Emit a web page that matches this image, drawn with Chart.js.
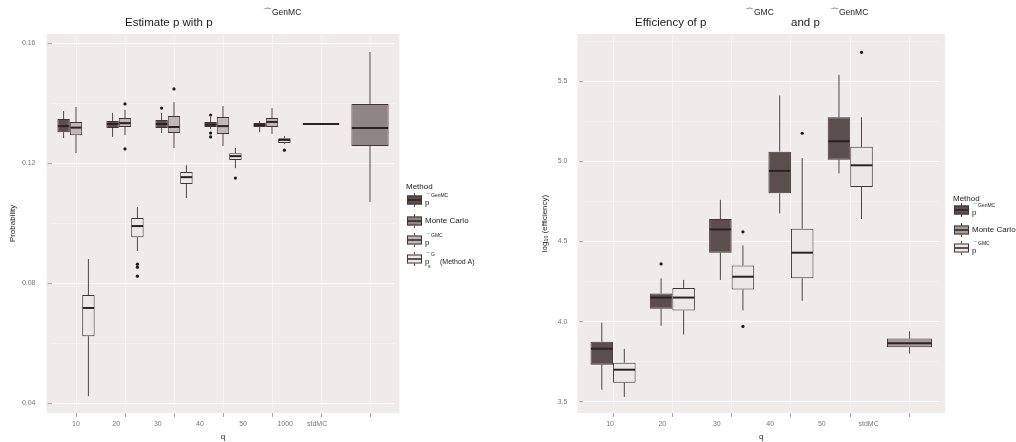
<!DOCTYPE html>
<html>
<head>
<meta charset="utf-8">
<script src="https://cdn.jsdelivr.net/npm/chart.js@4.4.1/dist/chart.umd.min.js"></script>
<style>
    body { margin: 0; background: #fff; width: 1016px; height: 442px; overflow: hidden; position: relative; }
    canvas { position: absolute; top: 0; }
    #leftChart { left: 0; }
    #rightChart { left: 500px; }
</style>
</head>
<body>
<canvas id="leftChart" width="500" height="442"></canvas>
<canvas id="rightChart" width="516" height="442"></canvas>
<script>
// each box: [lower whisker, q1, median, q3, upper whisker]
const leftGroups = ['10', '20', '30', '40', '50', '1000', 'stdMC'];
const leftYTicks = [0.04, 0.06, 0.08, 0.10, 0.12, 0.14, 0.16];

const leftGenMC = [
    [0.1283, 0.1303, 0.1323, 0.1347, 0.1373],
    [0.1287, 0.1317, 0.1330, 0.1340, 0.1367],
    [0.1300, 0.1317, 0.1330, 0.1343, 0.1367],
    [0.1313, 0.1320, 0.1328, 0.1337, 0.1353],
    [0.1303, 0.1320, 0.1327, 0.1333, 0.1340],
    [0.1329, 0.1329, 0.1330, 0.1331, 0.1331],
    null
];
const leftGenMCOut = [[], [], [0.1383], [0.1360, 0.1300, 0.1287], [], [], []];

const leftMC = [null, null, null, null, null, null, [0.1070, 0.1257, 0.1317, 0.1397, 0.1570]];
const leftMCOut = [[], [], [], [], [], [], []];

const leftGMC = [
    [0.1233, 0.1293, 0.1318, 0.1337, 0.1387],
    [0.1293, 0.1320, 0.1333, 0.1350, 0.1377],
    [0.1250, 0.1300, 0.1320, 0.1357, 0.1403],
    [0.1257, 0.1297, 0.1323, 0.1353, 0.1390],
    [0.1297, 0.1320, 0.1337, 0.1350, 0.1383],
    null, null
];
const leftGMCOut = [[], [0.1397, 0.1247], [0.1447], [], [], [], []];

const leftMethodA = [
    [0.0423, 0.0623, 0.0717, 0.0760, 0.0880],
    [0.0907, 0.0953, 0.0990, 0.1017, 0.1053],
    [0.1083, 0.1130, 0.1153, 0.1170, 0.1193],
    [0.1183, 0.1210, 0.1223, 0.1233, 0.1250],
    [0.1263, 0.1267, 0.1277, 0.1283, 0.1290],
    null, null
];
const leftMethodAOut = [[], [0.0863, 0.0853, 0.0823], [], [0.1150], [0.1243], [], []];

const rightGroups = ['10', '20', '30', '40', '50', 'stdMC'];
const rightYTicks = [3.5, 3.75, 4.0, 4.25, 4.5, 4.75, 5.0, 5.25, 5.5, 5.75];

const rightGenMC = [
    [3.575, 3.731, 3.831, 3.875, 3.994],
    [3.975, 4.081, 4.150, 4.175, 4.270],
    [4.260, 4.430, 4.575, 4.640, 4.760],
    [4.675, 4.800, 4.940, 5.060, 5.410],
    [4.925, 5.010, 5.125, 5.275, 5.540],
    null
];
const rightGenMCOut = [[], [4.36], [], [], [], []];

const rightMC = [null, null, null, null, null, [3.800, 3.840, 3.865, 3.894, 3.940]];
const rightMCOut = [[], [], [], [], [], []];

const rightGMC = [
    [3.530, 3.619, 3.700, 3.744, 3.830],
    [3.920, 4.070, 4.150, 4.210, 4.260],
    [4.070, 4.200, 4.280, 4.350, 4.475],
    [4.130, 4.270, 4.430, 4.580, 5.020],
    [4.640, 4.840, 4.975, 5.090, 5.275],
    null
];
const rightGMCOut = [[], [], [4.56, 3.97], [5.175], [5.68], []];

// where the q labels sit, in category units (they drift off the tick marks in the original)
const leftLabelAt = [0, 0.82, 1.67, 2.53, 3.41, 4.27, 4.92];
const rightLabelAt = [-0.05, 0.83, 1.75, 2.65, 3.52, 4.31];

const FONT = '"Liberation Sans", Arial, sans-serif';
Chart.defaults.font.family = FONT;

const panelBg = {
    id: 'panelBg',
    beforeDraw(chart) {
        const { ctx, chartArea } = chart;
        const x = chart.scales.x;
        const n = chart.data.labels.length;
        const unit = (chartArea.right - chartArea.left) / n;
        ctx.save();
        ctx.fillStyle = '#fff';
        ctx.fillRect(0, 0, chart.width, chart.height);
        ctx.fillStyle = '#efebe8';
        const l = x.getPixelForValue(0) - 0.6 * unit;
        const r = x.getPixelForValue(n - 1) + 0.6 * unit;
        ctx.fillRect(l, chartArea.top, r - l, chartArea.bottom - chartArea.top);
        ctx.restore();
    }
};

const boxExtras = {
    id: 'boxExtras',
    afterDatasetsDraw(chart) {
        const ctx = chart.ctx;
        const y = chart.scales.y;
        ctx.save();
        chart.data.datasets.forEach((ds, di) => {
            const meta = chart.getDatasetMeta(di);
            ds.stats.forEach((s, i) => {
                if (!s) return;
                const bar = meta.data[i];
                const x = bar.x;
                const half = bar.width / 2;
                ctx.strokeStyle = '#4f4545';
                ctx.lineWidth = 1;
                ctx.beginPath();
                ctx.moveTo(x, y.getPixelForValue(s[3]));
                ctx.lineTo(x, y.getPixelForValue(s[4]));
                ctx.moveTo(x, y.getPixelForValue(s[1]));
                ctx.lineTo(x, y.getPixelForValue(s[0]));
                ctx.stroke();

                ctx.strokeStyle = '#2b2323';
                ctx.lineWidth = 2;
                ctx.beginPath();
                const my = y.getPixelForValue(s[2]);
                ctx.moveTo(x - half + 0.5, my);
                ctx.lineTo(x + half - 0.5, my);
                ctx.stroke();

                ctx.fillStyle = '#1e1a1a';
                (ds.outliers[i] || []).forEach(v => {
                    ctx.beginPath();
                    ctx.arc(x, y.getPixelForValue(v), 1.6, 0, Math.PI * 2);
                    ctx.fill();
                });
            });
        });
        ctx.restore();
    }
};

function drawPieces(ctx, pieces, x0, y0) {
    pieces.forEach(p => {
        ctx.font = `${p.s}px ${FONT}`;
        ctx.fillText(p.t, x0 + p.dx, y0 + p.dy);
    });
}

const titleText = {
    id: 'titleText',
    afterDraw(chart, args, opts) {
        const ctx = chart.ctx;
        ctx.save();
        ctx.fillStyle = '#1a1a1a';
        ctx.textBaseline = 'middle';
        drawPieces(ctx, opts.pieces, 0, 0);
        ctx.restore();
    }
};

const boxLegend = {
    id: 'boxLegend',
    afterDraw(chart, args, opts) {
        const ctx = chart.ctx;
        ctx.save();
        ctx.textBaseline = 'middle';
        ctx.fillStyle = '#1a1a1a';
        ctx.font = `8px ${FONT}`;
        ctx.fillText('Method', opts.x, opts.titleY);
        chart.data.datasets.forEach((ds, i) => {
            const cy = opts.rows[i];
            const kx = opts.x + 1;
            // whisker
            ctx.strokeStyle = '#4f4545';
            ctx.lineWidth = 1;
            ctx.beginPath();
            ctx.moveTo(kx + 7.5, cy - 7);
            ctx.lineTo(kx + 7.5, cy + 7);
            ctx.stroke();
            // box
            ctx.fillStyle = ds.backgroundColor;
            ctx.fillRect(kx, cy - 4.5, 15, 9);
            ctx.strokeStyle = '#3d3434';
            ctx.strokeRect(kx + 0.5, cy - 4, 14, 8);
            ctx.strokeStyle = '#2b2323';
            ctx.lineWidth = 1.5;
            ctx.beginPath();
            ctx.moveTo(kx + 1, cy);
            ctx.lineTo(kx + 14, cy);
            ctx.stroke();
            ctx.fillStyle = '#1a1a1a';
            drawPieces(ctx, ds.parts, opts.x + 19, cy);
        });
        ctx.restore();
    }
};

function makeDataset(name, stats, outliers, fill, parts) {
    return {
        label: name,
        stats: stats,
        outliers: outliers,
        parts: parts,
        data: stats.map(s => s ? [s[1], s[3]] : null),
        backgroundColor: fill,
        borderColor: '#3d3434',
        borderWidth: 1,
        borderSkipped: false,
        skipNull: true,
        categoryPercentage: 0.76,
        barPercentage: 1
    };
}

function makeChart(id, cfg) {
    const n = cfg.groups.length;
    const isMajor = v => Math.abs(v / cfg.major - Math.round(v / cfg.major)) < 1e-6;
    return new Chart(document.getElementById(id), {
        type: 'bar',
        data: {
            labels: cfg.groups,
            datasets: cfg.datasets
        },
        options: {
            responsive: false,
            animation: false,
            devicePixelRatio: 1,
            layout: { padding: { top: 34, right: cfg.padRight, left: 0, bottom: 0 } },
            plugins: {
                legend: { display: false },
                tooltip: { enabled: false },
                titleText: { pieces: cfg.title },
                boxLegend: cfg.legend
            },
            scales: {
                x: {
                    type: 'category',
                    position: 'bottom',
                    weight: 0,
                    offset: true,
                    grid: {
                        offset: false,
                        color: 'rgba(255,255,255,0.5)',
                        tickColor: '#a9a3a3',
                        tickLength: 4
                    },
                    border: { display: false },
                    ticks: { display: false },
                    afterFit: s => { s.height = 4; }
                },
                xl: {
                    type: 'linear',
                    position: 'bottom',
                    weight: 1,
                    offset: false,
                    min: -0.5,
                    max: n - 0.5,
                    grid: { display: false, drawTicks: false, offset: false },
                    border: { display: false },
                    afterBuildTicks: s => { s.ticks = cfg.labelAt.map(v => ({ value: v })); },
                    ticks: {
                        autoSkip: false,
                        maxRotation: 0,
                        padding: 3,
                        color: '#7a7474',
                        font: { size: 7 },
                        callback: (v, i) => cfg.groups[i]
                    },
                    title: {
                        display: true,
                        text: 'q',
                        color: '#1a1a1a',
                        font: { size: 8 },
                        padding: { top: 0, bottom: 0 }
                    },
                    afterFit: s => { s.height = 25; }
                },
                y: {
                    type: 'linear',
                    min: cfg.yMin,
                    max: cfg.yMax,
                    afterBuildTicks: s => { s.ticks = cfg.yTicks.map(v => ({ value: v })); },
                    grid: {
                        color: c => isMajor(c.tick.value) ? 'rgba(255,255,255,0.95)' : 'rgba(255,255,255,0.55)',
                        lineWidth: c => isMajor(c.tick.value) ? 1 : 0.6,
                        tickColor: c => isMajor(c.tick.value) ? '#a9a3a3' : 'rgba(0,0,0,0)',
                        tickLength: 4
                    },
                    border: { display: false },
                    ticks: {
                        autoSkip: false,
                        padding: 12,
                        color: '#7a7474',
                        font: { size: 7 },
                        callback: v => isMajor(v) ? v.toFixed(cfg.digits) : ''
                    },
                    title: {
                        display: true,
                        text: cfg.yTitle,
                        color: '#1a1a1a',
                        font: { size: 8 },
                        padding: { top: cfg.yTitlePad, bottom: 0 }
                    },
                    afterFit: s => { s.width = cfg.yWidth; }
                }
            }
        },
        plugins: [panelBg, boxExtras, titleText, boxLegend]
    });
}

const supGenMC = [{ t: 'p', s: 8, dx: 0, dy: 3 }, { t: '⌒GenMC', s: 5, dx: 1, dy: -4 }];
const supGMC = [{ t: 'p', s: 8, dx: 0, dy: 3 }, { t: '⌒GMC', s: 5, dx: 1, dy: -4 }];

makeChart('leftChart', {
    groups: leftGroups,
    labelAt: leftLabelAt,
    yTicks: leftYTicks,
    yMin: 0.0367,
    yMax: 0.1630,
    major: 0.04,
    digits: 2,
    yTitle: 'Probability',
    yTitlePad: 8,
    yWidth: 51.5,
    padRight: 105.5,
    title: [
        { t: 'Estimate p with p', s: 11.5, dx: 125, dy: 23 },
        { t: '⌒GenMC', s: 8.5, dx: 263, dy: 13 }
    ],
    legend: { x: 406, titleY: 187, rows: [200, 221, 240, 259] },
    datasets: [
        makeDataset('GenMC', leftGenMC, leftGenMCOut, '#5a4f4d', supGenMC),
        makeDataset('Monte Carlo', leftMC, leftMCOut, '#8f8584', [{ t: 'Monte Carlo', s: 8, dx: 0, dy: 0 }]),
        makeDataset('GMC', leftGMC, leftGMCOut, '#bfb8b7', supGMC),
        makeDataset('Method A', leftMethodA, leftMethodAOut, '#ece8e6', [
            { t: 'p', s: 8, dx: 0, dy: 3 },
            { t: '⌒G', s: 5, dx: 1, dy: -4 },
            { t: 's', s: 5, dx: 3, dy: 8 },
            { t: '(Method A)', s: 7, dx: 15, dy: 3 }
        ])
    ]
});

makeChart('rightChart', {
    groups: rightGroups,
    labelAt: rightLabelAt,
    yTicks: rightYTicks,
    yMin: 3.43,
    yMax: 5.794,
    major: 0.5,
    digits: 1,
    yTitle: 'log₁₀ (efficiency)',
    yTitlePad: 40,
    yWidth: 83.4,
    padRight: 76.8,
    title: [
        { t: 'Efficiency of p', s: 11.5, dx: 135, dy: 23 },
        { t: '⌒GMC', s: 8.5, dx: 245, dy: 13 },
        { t: 'and p', s: 11.5, dx: 291, dy: 23 },
        { t: '⌒GenMC', s: 8.5, dx: 330, dy: 13 }
    ],
    legend: { x: 453, titleY: 199, rows: [210, 230, 248] },
    datasets: [
        makeDataset('GenMC', rightGenMC, rightGenMCOut, '#5a4f4d', supGenMC),
        makeDataset('Monte Carlo', rightMC, rightMCOut, '#a39a99', [{ t: 'Monte Carlo', s: 8, dx: 0, dy: 0 }]),
        makeDataset('GMC', rightGMC, rightGMCOut, '#ece8e6', supGMC)
    ]
});
</script>
</body>
</html>
